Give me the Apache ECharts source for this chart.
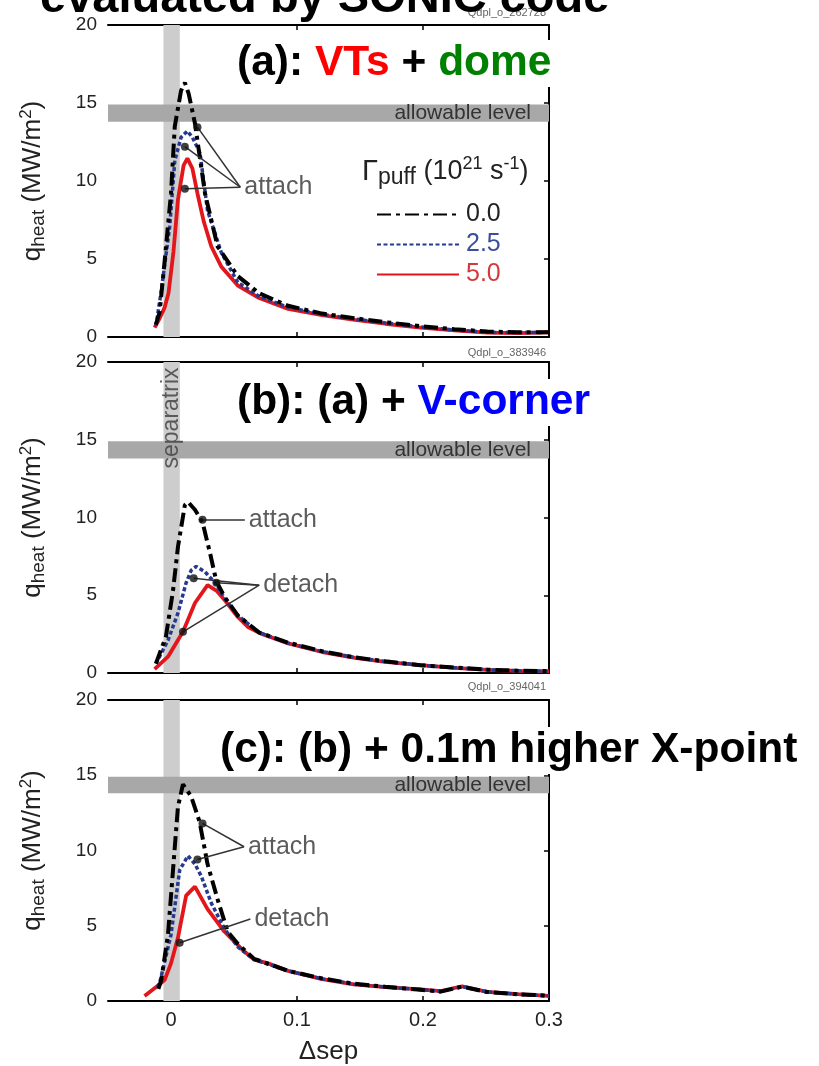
<!DOCTYPE html>
<html>
<head>
<meta charset="utf-8">
<script src="https://cdn.jsdelivr.net/npm/echarts@6/dist/echarts.min.js"></script>
<style>
  html, body { margin: 0; padding: 0; background: #fff; }
  #chart { width: 819px; height: 1066px; }
</style>
</head>
<body>
<div id="chart"></div>
<script>
// ---- data ----
var xTicks = [0, 0.1, 0.2, 0.3];
var xTickLabels = ['0', '0.1', '0.2', '0.3'];
var seriesNames = ['0.0', '2.5', '5.0'];

// panel (a): VTs + dome
var aBlack = [[-0.012,0.8],[-0.009,1.6],[-0.005,4.9],[0,9.2],[0.003,13.5],[0.008,15.8],[0.011,16.3],[0.014,15.6],[0.019,13.7],[0.027,9.2],[0.037,5.8],[0.053,3.9],[0.07,2.8],[0.093,2.0],[0.12,1.5],[0.146,1.2],[0.17,0.95],[0.198,0.7],[0.225,0.5],[0.251,0.35],[0.275,0.3],[0.3,0.3]];
var aBlue = [[-0.012,0.7],[-0.008,2.8],[-0.001,7.1],[0.003,11.3],[0.008,12.8],[0.013,13.2],[0.017,12.8],[0.023,11.8],[0.029,8.1],[0.04,5.4],[0.053,3.5],[0.07,2.6],[0.093,1.9],[0.12,1.45],[0.146,1.15],[0.17,0.9],[0.198,0.65],[0.225,0.45],[0.251,0.3],[0.275,0.28],[0.3,0.3]];
var aRed = [[-0.013,0.6],[-0.009,1.2],[-0.005,1.9],[-0.002,2.8],[0.002,5.5],[0.0055,8.8],[0.01,11.0],[0.013,11.45],[0.017,10.8],[0.021,9.2],[0.026,7.4],[0.032,5.8],[0.04,4.5],[0.053,3.3],[0.07,2.5],[0.093,1.8],[0.12,1.4],[0.146,1.1],[0.17,0.85],[0.198,0.6],[0.225,0.42],[0.251,0.28],[0.275,0.25],[0.3,0.3]];

// panel (b): (a) + V-corner
var bBlack = [[-0.012,0.6],[-0.004,2.35],[0.0016,5.3],[0.0055,8.1],[0.011,10.8],[0.0135,11.0],[0.019,10.5],[0.025,9.7],[0.031,7.7],[0.036,5.9],[0.0425,4.9],[0.053,3.7],[0.07,2.6],[0.093,1.95],[0.12,1.4],[0.146,1.0],[0.17,0.75],[0.198,0.5],[0.225,0.35],[0.251,0.22],[0.275,0.15],[0.3,0.12]];
var bBlue = [[-0.012,0.6],[-0.0024,2.1],[0.0055,3.85],[0.012,5.8],[0.016,6.6],[0.02,6.85],[0.027,6.5],[0.035,5.8],[0.0425,4.8],[0.053,3.7],[0.07,2.6],[0.093,1.92],[0.12,1.38],[0.146,1.0],[0.17,0.74],[0.198,0.5],[0.225,0.34],[0.251,0.21],[0.275,0.14],[0.3,0.11]];
var bRed = [[-0.013,0.25],[-0.0024,1.05],[0.0095,2.65],[0.019,4.5],[0.029,5.65],[0.036,5.3],[0.0425,4.7],[0.053,3.6],[0.061,2.96],[0.071,2.55],[0.093,1.9],[0.12,1.35],[0.146,0.98],[0.17,0.72],[0.198,0.5],[0.225,0.33],[0.251,0.2],[0.275,0.14],[0.3,0.1]];

// panel (c): (b) + 0.1m higher X-point
var cBlack = [[-0.01,0.8],[-0.0077,1.4],[-0.0024,4.4],[0.0016,8.7],[0.0055,12.9],[0.0095,14.4],[0.016,13.6],[0.0227,11.9],[0.029,9.1],[0.037,6.75],[0.045,4.6],[0.053,3.8],[0.066,2.8],[0.093,2.0],[0.12,1.5],[0.145,1.15],[0.17,0.95],[0.198,0.75],[0.214,0.62],[0.231,0.95],[0.251,0.6],[0.275,0.45],[0.3,0.35]];
var cBlue = [[-0.011,0.9],[-0.009,1.2],[0,4.4],[0.0069,8.7],[0.011,9.3],[0.0135,9.65],[0.019,9.1],[0.024,8.3],[0.032,6.5],[0.04,5.2],[0.0425,4.8],[0.053,3.6],[0.066,2.75],[0.093,2.0],[0.12,1.47],[0.145,1.12],[0.17,0.93],[0.198,0.76],[0.214,0.64],[0.231,0.96],[0.251,0.6],[0.275,0.45],[0.3,0.34]];
var cRed = [[-0.021,0.34],[-0.0077,1.2],[-0.005,1.4],[0,2.5],[0.0055,4.2],[0.012,7.0],[0.019,7.6],[0.029,6.1],[0.0425,4.6],[0.058,3.3],[0.066,2.75],[0.077,2.5],[0.093,2.0],[0.12,1.45],[0.145,1.1],[0.17,0.92],[0.198,0.77],[0.214,0.66],[0.231,0.98],[0.251,0.6],[0.275,0.45],[0.3,0.34]];

// shaded bands
var sepBand = [-0.006, 0.007];
var allowBand = [13.8, 14.9];

// annotation pointers: dots, and the point where the lines meet the label
var aAttachDots = [[0.021,13.45],[0.011,12.2],[0.011,9.5]];
var aAttachTip = [0.055,9.6];
var bAttachDots = [[0.025,9.85]];
var bAttachTip = [0.0586,9.85];
var bDetachDots = [[0.018,6.1],[0.036,5.8],[0.0095,2.65]];
var bDetachTip = [0.070,5.65];
var cAttachDots = [[0.025,11.8],[0.021,9.4]];
var cAttachTip = [0.058,10.25];
var cDetachDots = [[0.0069,3.87]];
var cDetachTip = [0.063,5.45];

var panelTitles = [
    '{k|(a): }{r|VTs}{k| + }{g|dome}',
    '{k|(b): (a) + }{u|V-corner}',
    '{k|(c): (b) + 0.1m higher X-point}'
];
var runIds = ['Qdpl_o_262728', 'Qdpl_o_383946', 'Qdpl_o_394041'];

// ---- chart ----
var FONT = "'Liberation Sans', Arial, Helvetica, sans-serif";
var colors = ['#000000', '#26398f', '#e3161c'];
var dashes = [[14, 5, 4, 5], [4, 2.5], 'solid'];
var widths = [4, 3.5, 3.8];

var grids = [
    {left: 108, top: 25, width: 441, height: 312},
    {left: 108, top: 362, width: 441, height: 311},
    {left: 108, top: 700, width: 441, height: 312}
];

var xAxes = [], yAxes = [];
var yName = '{b|q}{s|heat}{b| (MW/m}{p|2}{b|)}';
for (var i = 0; i < 3; i++) {
    xAxes.push({
        type: 'value', gridIndex: i, min: -0.05, max: 0.3, position: 'bottom',
        axisLine: {show: true, onZero: false, lineStyle: {color: '#000', width: 2}},
        axisTick: {show: true, inside: true, length: 5, customValues: xTicks, lineStyle: {color: '#000', width: 1.5}},
        axisLabel: {show: i == 2, customValues: xTicks, margin: 9, fontSize: 20, color: '#222', fontFamily: FONT,
            formatter: function (v) { return xTickLabels[xTicks.indexOf(Math.round(v * 10) / 10)]; }},
        splitLine: {show: false},
        name: i == 2 ? 'Δsep' : '', nameLocation: 'middle', nameGap: 38,
        nameTextStyle: {fontSize: 26, color: '#222', fontFamily: FONT}
    });
    yAxes.push({
        type: 'value', gridIndex: i, min: 0, max: 20, interval: 5, position: 'left',
        axisLine: {show: true, lineStyle: {color: '#000', width: 2}},
        axisTick: {show: true, inside: true, length: 5, lineStyle: {color: '#000', width: 1.5}},
        axisLabel: {margin: 11, fontSize: 19, color: '#222', fontFamily: FONT},
        splitLine: {show: false},
        name: yName, nameLocation: 'middle', nameGap: 60, nameRotate: 90,
        nameTextStyle: {
            fontFamily: FONT, color: '#222',
            rich: {
                b: {fontSize: 26, lineHeight: 30, fontFamily: FONT, color: '#222'},
                s: {fontSize: 19, lineHeight: 18, verticalAlign: 'bottom', fontFamily: FONT, color: '#222'},
                p: {fontSize: 17, lineHeight: 16, verticalAlign: 'top', fontFamily: FONT, color: '#222'}
            }
        }
    });
}
// mirror ticks on top and right
for (var i = 0; i < 3; i++) {
    xAxes.push({
        type: 'value', gridIndex: i, min: -0.05, max: 0.3, position: 'top',
        axisLine: {show: true, onZero: false, lineStyle: {color: '#000', width: 2}},
        axisTick: {show: true, inside: true, length: 5, customValues: xTicks, lineStyle: {color: '#000', width: 1.5}},
        axisLabel: {show: false}, splitLine: {show: false}
    });
    yAxes.push({
        type: 'value', gridIndex: i, min: 0, max: 20, interval: 5, position: 'right',
        axisLine: {show: true, onZero: false, lineStyle: {color: '#000', width: 2}},
        axisTick: {show: true, inside: true, length: 5, lineStyle: {color: '#000', width: 1.5}},
        axisLabel: {show: false}, splitLine: {show: false}
    });
}

var panels = [[aBlack, aBlue, aRed], [bBlack, bBlue, bRed], [cBlack, cBlue, cRed]];
var series = [];

// bands first so they sit under the curves
for (var i = 0; i < 3; i++) {
    series.push({
        type: 'line', xAxisIndex: i, yAxisIndex: i, data: [], silent: true, z: 1,
        markArea: {
            silent: true,
            data: [
                [{xAxis: sepBand[0], yAxis: 0, itemStyle: {color: '#cdcdcd'}}, {xAxis: sepBand[1], yAxis: 20}],
                [{xAxis: -0.05, yAxis: allowBand[0], itemStyle: {color: '#a8a8a8'},
                  label: {show: true, position: 'insideRight', formatter: 'allowable level', distance: 18,
                          fontSize: 21, color: '#333', fontFamily: FONT}},
                 {xAxis: 0.3, yAxis: allowBand[1]}]
            ]
        }
    });
}

for (var i = 0; i < 3; i++) {
    for (var k = 0; k < 3; k++) {
        series.push({
            name: seriesNames[k], type: 'line', xAxisIndex: i, yAxisIndex: i,
            data: panels[i][k], symbol: 'none', smooth: false, z: 3 + (2 - k),
            lineStyle: {color: colors[k], width: widths[k], type: dashes[k]},
            itemStyle: {color: colors[k]}
        });
    }
}

function pointer(gi, dots, tip, text) {
    series.push({
        type: 'lines', coordinateSystem: 'cartesian2d', xAxisIndex: gi, yAxisIndex: gi, z: 8,
        lineStyle: {color: '#333', width: 1.5, opacity: 1},
        data: dots.map(function (d) { return {coords: [d, tip]}; })
    });
    series.push({
        type: 'scatter', xAxisIndex: gi, yAxisIndex: gi, z: 9, symbolSize: 8,
        itemStyle: {color: '#111'}, data: dots
    });
    series.push({
        type: 'scatter', xAxisIndex: gi, yAxisIndex: gi, z: 9, symbolSize: 0,
        data: [tip],
        label: {show: true, position: 'right', distance: 4, formatter: text,
                fontSize: 25, color: '#333', fontFamily: FONT}
    });
}
pointer(0, aAttachDots, aAttachTip, 'attach');
pointer(1, bAttachDots, bAttachTip, 'attach');
pointer(1, bDetachDots, bDetachTip, 'detach');
pointer(2, cAttachDots, cAttachTip, 'attach');
pointer(2, cDetachDots, cDetachTip, 'detach');

// "separatrix" written along the vertical band of panel (b)
series.push({
    type: 'scatter', xAxisIndex: 1, yAxisIndex: 1, z: 2, symbolSize: 0,
    data: [[0.0005, 16.4]],
    label: {show: true, position: 'inside', rotate: 90, formatter: 'separatrix',
            fontSize: 23, color: '#3c3c3c', fontFamily: FONT}
});

var titleRich = {
    k: {fontSize: 42.5, fontWeight: 'bold', fill: '#000', fontFamily: FONT},
    r: {fontSize: 42.5, fontWeight: 'bold', fill: '#ff0000', fontFamily: FONT},
    g: {fontSize: 42.5, fontWeight: 'bold', fill: '#008000', fontFamily: FONT},
    u: {fontSize: 42.5, fontWeight: 'bold', fill: '#0000ff', fontFamily: FONT}
};
var titleX = [235, 235, 218], titleY = [65, 404, 752];
var graphics = [];
for (var i = 0; i < 3; i++) {
    graphics.push({
        type: 'text', left: titleX[i], top: titleY[i] - 25, z: 100,
        style: {text: panelTitles[i], rich: titleRich, backgroundColor: '#fff', padding: [2, 2, 2, 2]}
    });
    graphics.push({
        type: 'text', right: 819 - 546, top: [7, 347, 681][i], z: 100,
        style: {text: runIds[i], fontSize: 11, fill: '#666', fontFamily: FONT}
    });
}
graphics.push({
    type: 'text', left: 40, top: -24, z: 100,
    style: {text: 'evaluated by SONIC code', fontSize: 47, fontWeight: 'bold', fill: '#000', fontFamily: FONT}
});
graphics.push({
    type: 'text', left: 362, top: 155, z: 100,
    style: {
        text: '{g|Γ}{s|puff}{b| (10}{p|21}{b| s}{p|-1}{b|)}',
        rich: {
            g: {fontSize: 29, lineHeight: 34, fill: '#222', fontFamily: FONT},
            b: {fontSize: 27, lineHeight: 34, fill: '#222', fontFamily: FONT},
            s: {fontSize: 23, lineHeight: 20, verticalAlign: 'bottom', fill: '#222', fontFamily: FONT},
            p: {fontSize: 18, lineHeight: 18, verticalAlign: 'top', fill: '#222', fontFamily: FONT}
        }
    }
});

var chart = echarts.init(document.getElementById('chart'));
chart.setOption({
    backgroundColor: '#fff',
    animation: false,
    grid: grids,
    xAxis: xAxes,
    yAxis: yAxes,
    legend: {
        orient: 'vertical', left: 371, top: 197, itemWidth: 82, itemHeight: 14, itemGap: 5,
        itemStyle: {opacity: 0},
        data: [
            {name: '0.0', textStyle: {color: '#222'}},
            {name: '2.5', textStyle: {color: '#3a4ea0'}},
            {name: '5.0', textStyle: {color: '#d23a3a'}}
        ],
        textStyle: {fontSize: 25, fontFamily: FONT, padding: [0, 0, 0, 2]}
    },
    graphic: graphics,
    series: series
});
</script>
</body>
</html>
